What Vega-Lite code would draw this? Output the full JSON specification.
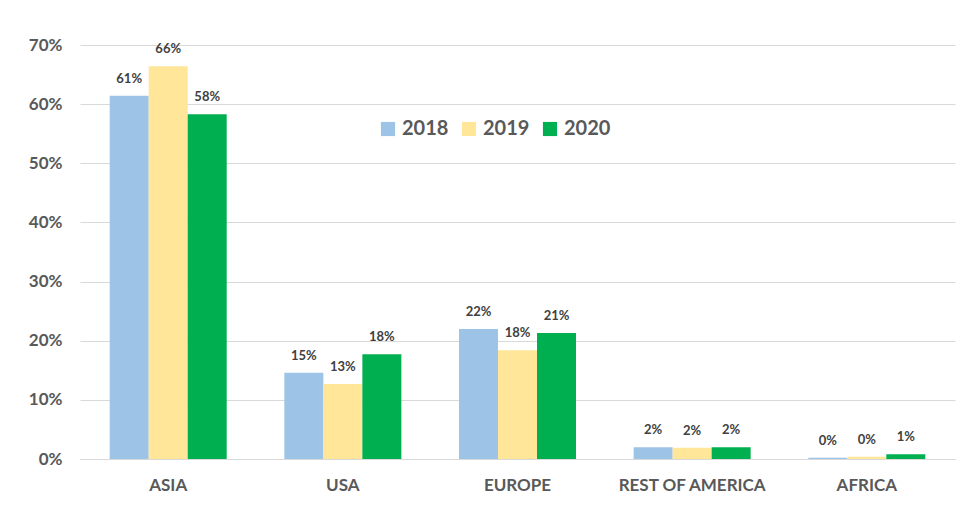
{
  "$schema": "https://vega.github.io/schema/vega-lite/v6.json",
  "autosize": "none",
  "padding": {"left": 80, "top": 45, "right": 5, "bottom": 60},
  "width": 875,
  "height": 414,
  "background": "white",
  "config": {
    "view": {"stroke": null},
    "font": "Lato"
  },
  "data": {
    "values": [
      {"region": "ASIA", "year": "2018", "share": 0.614},
      {"region": "ASIA", "year": "2019", "share": 0.664},
      {"region": "ASIA", "year": "2020", "share": 0.583},
      {"region": "USA", "year": "2018", "share": 0.146},
      {"region": "USA", "year": "2019", "share": 0.127},
      {"region": "USA", "year": "2020", "share": 0.177},
      {"region": "EUROPE", "year": "2018", "share": 0.220},
      {"region": "EUROPE", "year": "2019", "share": 0.184},
      {"region": "EUROPE", "year": "2020", "share": 0.213},
      {"region": "REST OF AMERICA", "year": "2018", "share": 0.020},
      {"region": "REST OF AMERICA", "year": "2019", "share": 0.019},
      {"region": "REST OF AMERICA", "year": "2020", "share": 0.020},
      {"region": "AFRICA", "year": "2018", "share": 0.002},
      {"region": "AFRICA", "year": "2019", "share": 0.004},
      {"region": "AFRICA", "year": "2020", "share": 0.008}
    ]
  },
  "encoding": {
    "x": {
      "field": "region", "type": "nominal", "sort": null,
      "scale": {"paddingInner": 0.33, "paddingOuter": 0.17},
      "axis": {
        "title": null, "labelAngle": 0, "ticks": false, "domain": true,
        "domainColor": "#d9d9d9", "labelFontSize": 17,
        "labelFontWeight": "bold", "labelColor": "#595959", "labelPadding": 18
      }
    },
    "xOffset": {"field": "year", "type": "nominal"},
    "y": {
      "field": "share", "type": "quantitative",
      "scale": {"domain": [0, 0.7], "nice": false},
      "axis": {
        "title": null, "format": ".0%", "values": [0, 0.1, 0.2, 0.3, 0.4, 0.5, 0.6, 0.7],
        "labelOverlap": false, "labelFlush": false,
        "ticks": false, "domain": false, "gridColor": "#d9d9d9",
        "labelFontSize": 17, "labelFontWeight": "bold", "labelColor": "#595959", "labelPadding": 18
      }
    }
  },
  "layer": [
    {
      "mark": {"type": "bar"},
      "encoding": {
        "color": {
          "field": "year", "type": "nominal",
          "scale": {"domain": ["2018", "2019", "2020"], "range": ["#9dc3e6", "#ffe699", "#00b050"]},
          "legend": {
            "title": null, "orient": "none", "direction": "horizontal",
            "legendX": 298, "legendY": 74, "symbolType": "square", "symbolSize": 200,
            "labelFontSize": 20, "labelFontWeight": "bold", "labelColor": "#595959",
            "columnPadding": 10, "labelOffset": 4
          }
        }
      }
    },
    {
      "mark": {"type": "text", "dy": -10, "fontSize": 13, "fontWeight": "bold", "color": "#404040", "baseline": "bottom"},
      "encoding": {
        "text": {"field": "share", "type": "quantitative", "format": ".0%"}
      }
    }
  ]
}
